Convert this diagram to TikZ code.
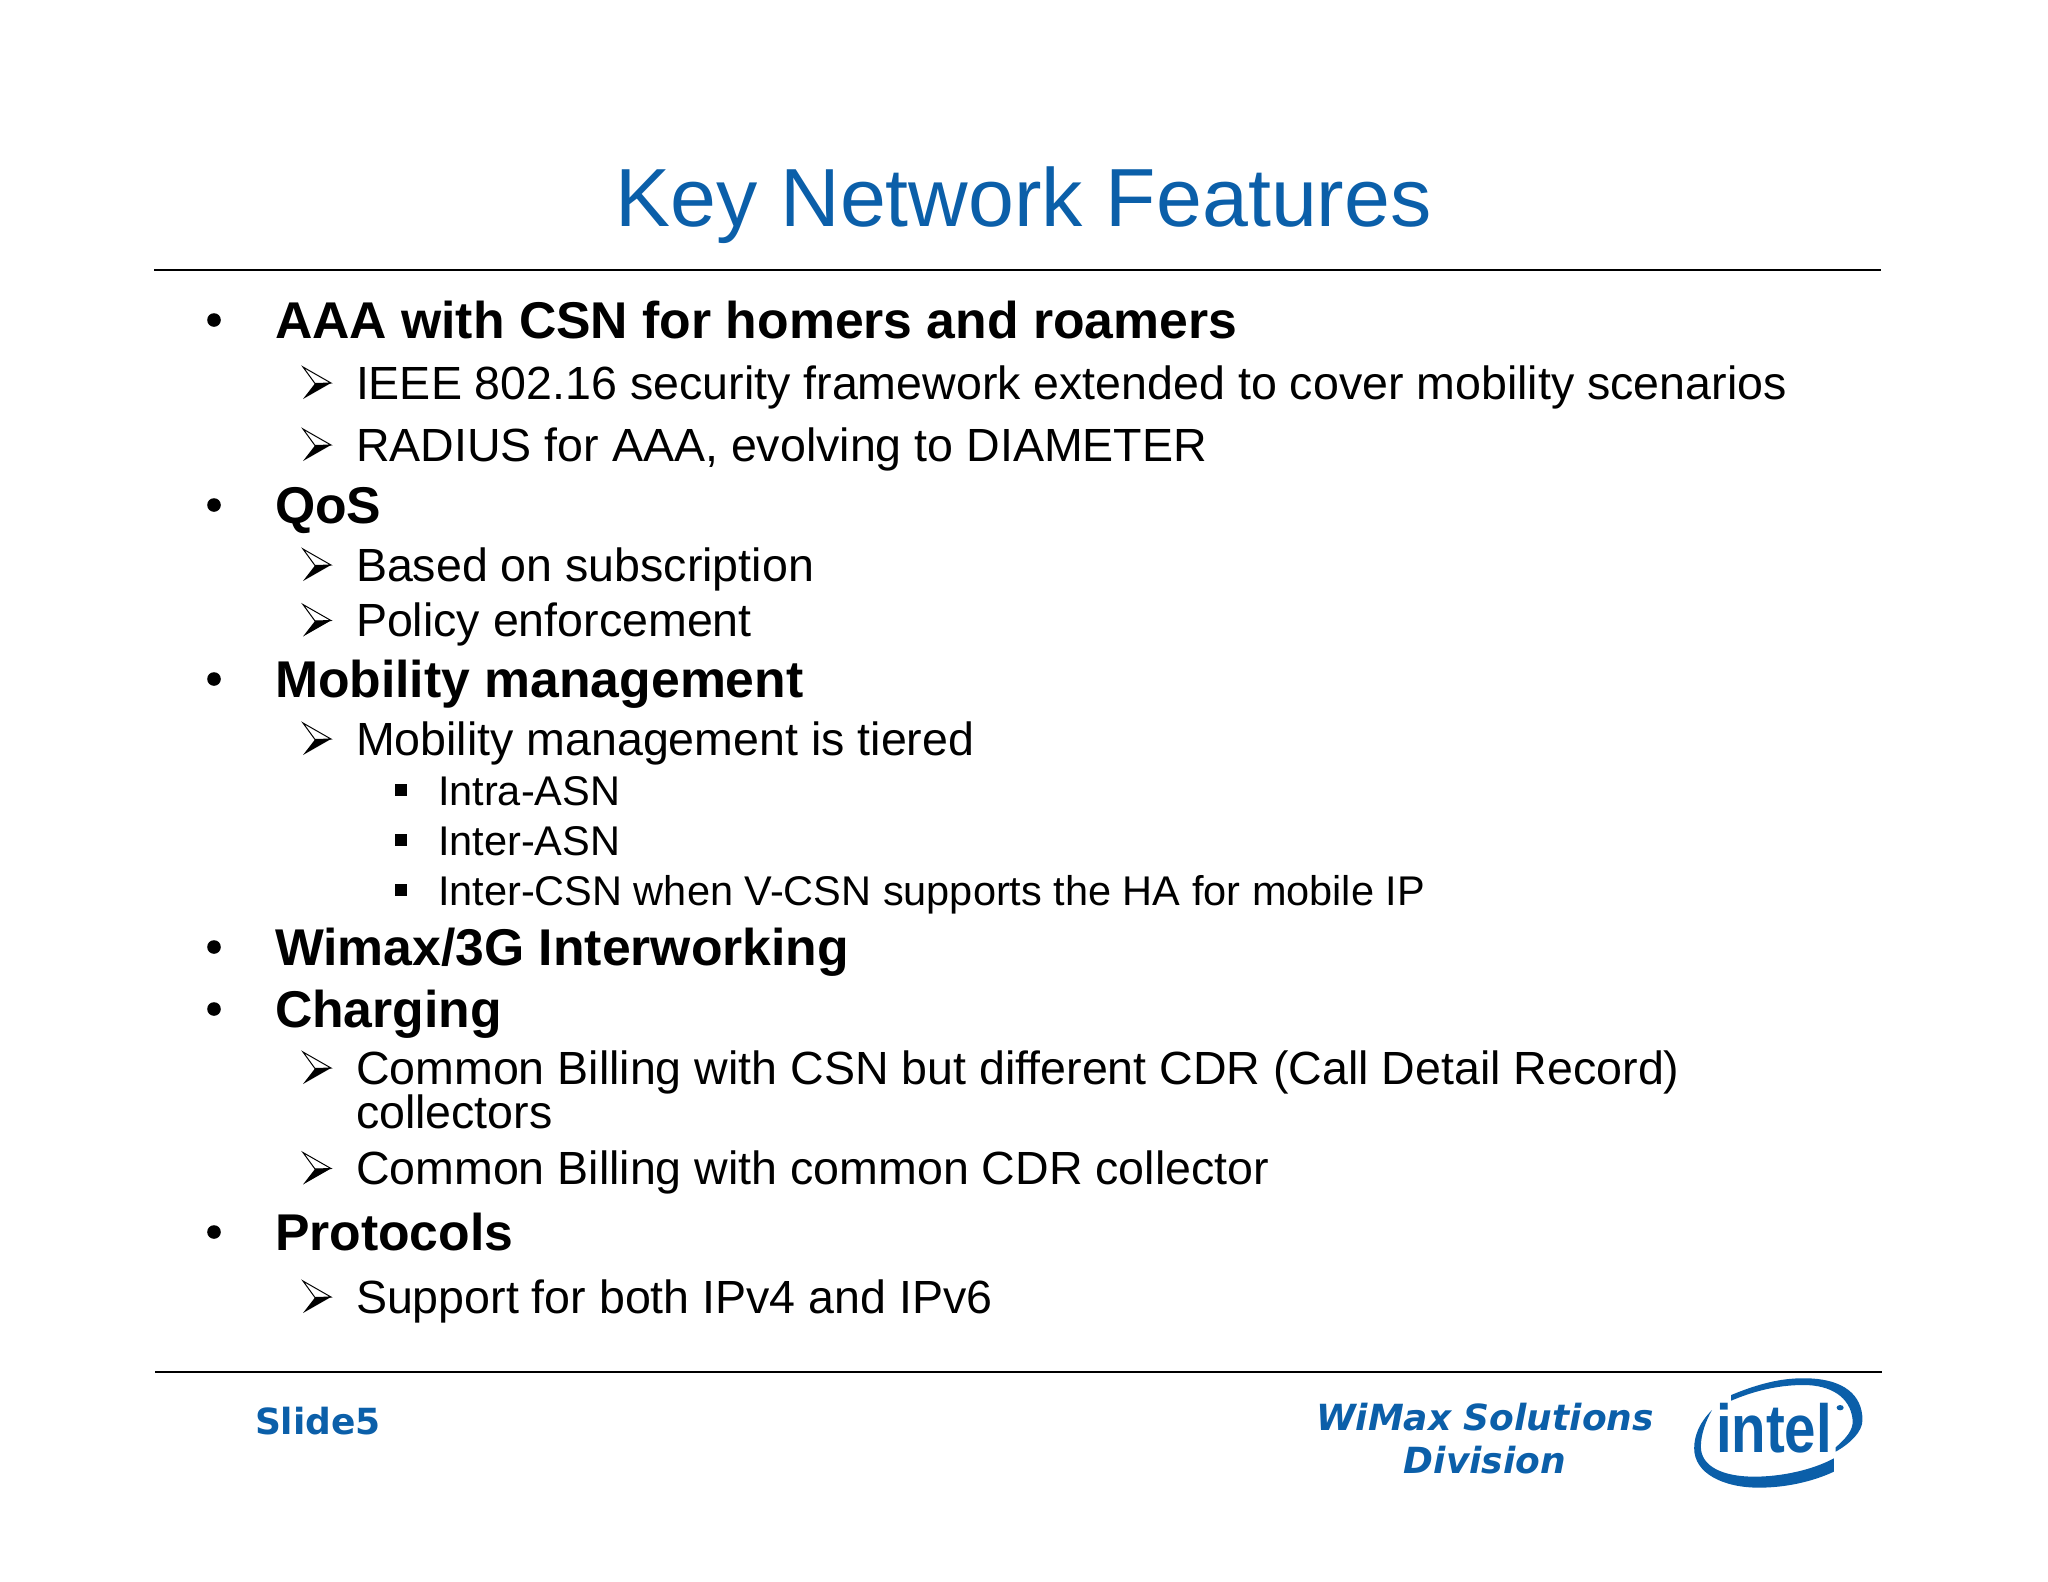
\documentclass[tikz,border=0pt]{standalone}
\usepackage{fontspec}
\setmainfont{Liberation Sans}
\newfontfamily\vfont{DejaVu Sans}
\definecolor{intelblue}{HTML}{0B5FA9}
\tikzset{
  x=1pt,y=-1pt,
  base/.style={anchor=base west,inner sep=0pt,outer sep=0pt,text=black},
  titletext/.style={base,text=intelblue,font=\fontsize{82.5}{90}\selectfont},
  lone/.style={base,font=\fontsize{51.7}{56}\selectfont\bfseries},
  ltwo/.style={base,font=\fontsize{46.55}{52}\selectfont},
  lthree/.style={base,font=\fontsize{41.5}{46}\selectfont},
  foot/.style={base,text=intelblue},
  rule/.style={line width=2.4pt,black},
  pics/dotbul/.style={code={\fill (0,-18) circle[radius=6.8];}},
  pics/arrowbul/.style={code={
    \fill (0,0) -- (28,-16) -- (12,-15.5) -- cycle;
    \draw[line width=1pt,line join=miter] (0,-32) -- (28,-16) -- (12,-15.5) -- cycle;
  }},
  pics/sqbul/.style={code={\fill (0,-21) rectangle (12,-9);}},
}
\newcommand{\onel}[3]{\pic at (214,#2+0) {dotbul}; \node[lone] (#1) at (275,#2) {#3};}
\newcommand{\twol}[3]{\pic at (303,#2) {arrowbul}; \node[ltwo] (#1) at (356,#2) {#3};}
\newcommand{\threel}[3]{\pic at (395,#2) {sqbul}; \node[lthree] (#1) at (438,#2) {#3};}
\begin{document}
\begin{tikzpicture}
\useasboundingbox (0,0) rectangle (2048,1582);
\node[titletext] (title) at (615.5,226) {Key Network Features};
\draw[rule] (154,270) -- (1881,270);
\onel{a}{338}{AAA with CSN for homers and roamers}
\twol{a1}{399}{IEEE 802.16 security framework extended to cover mobility scenarios}
\twol{a2}{461}{RADIUS for AAA, evolving to DIAMETER}
\onel{q}{523}{QoS}
\twol{q1}{581}{Based on subscription}
\twol{q2}{636.5}{Policy enforcement}
\onel{m}{697}{Mobility management}
\twol{m1}{755}{Mobility management is tiered}
\threel{m2}{805}{Intra-ASN}
\threel{m3}{855}{Inter-ASN}
\threel{m4}{905}{Inter-CSN when V-CSN supports the HA for mobile IP}
\onel{w}{965}{Wimax/3G Interworking}
\onel{c}{1027}{Charging}
\twol{c1}{1084}{Common Billing with CSN but different CDR (Call Detail Record)}
\node[ltwo] (c1b) at (356,1128) {collectors};
\twol{c2}{1184.5}{Common Billing with common CDR collector}
\onel{p}{1250}{Protocols}
\twol{p1}{1313}{Support for both IPv4 and IPv6}
\draw[rule] (155,1372) -- (1882,1372);
\node[foot,font=\fontsize{36}{40}\selectfont\vfont\bfseries] (slide) at (255,1434) {Slide5};
\node[foot,anchor=base,font=\fontsize{36}{40}\selectfont\vfont\bfseries\itshape] (wm) at (1485,1430) {WiMax Solutions};
\node[foot,anchor=base,font=\fontsize{36}{40}\selectfont\vfont\bfseries\itshape] (dv) at (1485,1473) {Division};
% logo
\begin{scope}[shift={(1250,1340)},x=0.4464pt,y=-0.3333pt]
\fill[intelblue] (1078,165) .. controls (1150,125) and (1200,113) .. (1250,115)
  .. controls (1330,118) and (1372,165) .. (1372,240)
  .. controls (1372,275) and (1345,310) .. (1312,335)
  -- (1312,322) .. controls (1335,295) and (1352,270) .. (1350,240)
  .. controls (1345,170) and (1300,135) .. (1240,135)
  .. controls (1180,135) and (1125,155) .. (1078,182) -- cycle;
\fill[intelblue] (1035,210) .. controls (1005,250) and (995,290) .. (995,325)
  .. controls (995,400) and (1060,443) .. (1140,443)
  .. controls (1200,443) and (1260,425) .. (1308,395)
  -- (1308,355) .. controls (1260,390) and (1190,410) .. (1130,410)
  .. controls (1060,410) and (1010,380) .. (1010,320)
  .. controls (1010,285) and (1020,245) .. (1035,210) -- cycle;
\fill[intelblue] (1322,203) circle[radius=8];
\end{scope}
\node[foot,font=\fontsize{68}{70}\selectfont\bfseries,xscale=0.83] (logo) at (1716,1452) {intel};
\end{tikzpicture}
\end{document}
